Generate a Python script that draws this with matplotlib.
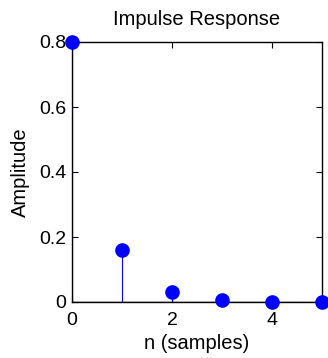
import matplotlib
matplotlib.use('Agg')
from matplotlib import pyplot as plt

n = [0, 1, 2, 3, 4, 5]
h = [0.8, 0.16, 0.032, 0.0064, 0.00128, 0.000256]

x_ticks = [0, 2, 4]
y_ticks = [0, 0.2, 0.4, 0.6, 0.8]
y_labels = ['0', '0.2', '0.4', '0.6', '0.8']

plt.rcParams['font.family'] = ['Liberation Sans', 'DejaVu Sans']

fig = plt.figure(figsize=(3.28, 3.58), dpi=100)
ax = fig.add_axes([72 / 328, 56 / 358, 250 / 328, 260 / 358])

markers, stems, base = ax.stem(n, h, linefmt='-', markerfmt='o', basefmt='-')
plt.setp(stems, color='#0000ff', linewidth=0.8)
plt.setp(markers, color='#0000ff', markersize=9.5, clip_on=False, zorder=5)
plt.setp(base, color='black', linewidth=1)

ax.set_xlim(0, 5)
ax.set_ylim(0, 0.8)
ax.set_xticks(x_ticks)
ax.set_xticklabels([str(t) for t in x_ticks])
ax.set_yticks(y_ticks)
ax.set_yticklabels(y_labels)
ax.tick_params(direction='in', top=True, right=True, labelsize=14, length=4, width=0.8)
ax.tick_params(axis='x', pad=7)
ax.tick_params(axis='y', pad=4)
for s in ax.spines.values():
    s.set_linewidth(1)

ax.set_title('Impulse Response', fontsize=14.5, pad=12)
ax.set_xlabel('n (samples)', fontsize=14.5, labelpad=4)
ax.set_ylabel('Amplitude', fontsize=14.5, labelpad=7)

fig.savefig('out.png', dpi=100)
